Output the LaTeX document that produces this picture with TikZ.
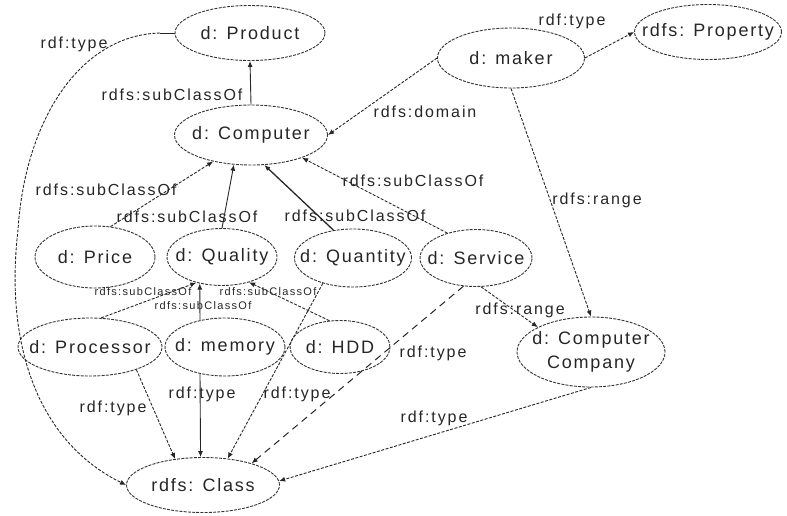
\documentclass[tikz,border=0pt]{standalone}
\usepackage{fontspec}
\usetikzlibrary{shapes.geometric,arrows.meta}
\newfontfamily\nodefont[LetterSpace=10]{Liberation Sans}
\newfontfamily\labfont[LetterSpace=12]{Liberation Sans}
\tikzset{
  ent/.style={ellipse, draw=black!80, line width=0.9pt, dash pattern=on 3pt off 1.2pt,
    inner sep=0pt, text=black!85, font=\nodefont\fontsize{18}{20}\selectfont},
  lab/.style={text=black!85, inner sep=1pt, font=\labfont\fontsize{16}{18}\selectfont},
  slab/.style={text=black!85, inner sep=1pt, font=\labfont\fontsize{11}{12}\selectfont},
  tip/.style={-{Latex[length=6pt,width=5pt]}},
  edash/.style={draw=black!85, line width=0.9pt, dash pattern=on 3pt off 1.5pt, tip},
  esolid/.style={draw=black!85, line width=0.9pt, tip},
  elong/.style={draw=black!85, line width=1pt, dash pattern=on 7pt off 5pt, tip}
}
\begin{document}
\begin{tikzpicture}[x=1pt,y=-1pt]
\useasboundingbox (0,0) rectangle (787,515);
% nodes
\node[ent, minimum width=150pt, minimum height=55pt] (product) at (250,33) {\makebox[0pt]{d: Product}};
\node[ent, minimum width=147pt, minimum height=55pt] (prop) at (708,32) {\makebox[0pt]{rdfs: Property}};
\node[ent, minimum width=147pt, minimum height=60pt] (maker) at (511,58) {\makebox[0pt]{d: maker}};
\node[ent, minimum width=153pt, minimum height=60pt] (comp) at (251,135) {\makebox[0pt]{d: Computer}};
\node[ent, minimum width=120pt, minimum height=62pt] (price) at (95,257) {\makebox[0pt]{d: Price}};
\node[ent, minimum width=110pt, minimum height=57pt] (qual) at (222,257) {\makebox[0pt]{d: Quality}};
\node[ent, minimum width=117pt, minimum height=58pt] (quant) at (353,258) {\makebox[0pt]{d: Quantity}};
\node[ent, minimum width=112pt, minimum height=57pt] (serv) at (476,258) {\makebox[0pt]{d: Service}};
\node[ent, minimum width=144pt, minimum height=58pt] (proc) at (90,347) {\makebox[0pt]{d: Processor}};
\node[ent, minimum width=120pt, minimum height=58pt] (mem) at (225,347) {\makebox[0pt]{d: memory}};
\node[ent, minimum width=100pt, minimum height=53pt] (hdd) at (340,347) {\makebox[0pt]{d: HDD}};
\node[ent, minimum width=148pt, minimum height=70pt] (cc) at (591,352) {\makebox[0pt]{\begin{tabular}{@{}c@{}}d: Computer\\[4pt]Company\end{tabular}}};
\node[ent, minimum width=153pt, minimum height=55pt] (cls) at (203,485) {\makebox[0pt]{rdfs: Class}};
% edges
\draw[esolid] (comp.north) -- (product.south);
\draw[edash] (maker.east) -- (prop.west);
\draw[edash] (maker.west) -- (comp.east);
\draw[edash] (maker.south) -- (cc.north);
\draw[edash] (serv.-80) -- (cc.155);
\draw[edash] (price.63) -- (comp.215);
\draw[esolid] (qual.north) -- (comp.240);
\draw[esolid, line width=1.3pt] (quant.125) -- (comp.294);
\draw[edash] (serv.139) -- (comp.336);
\draw[edash] (proc.69) -- (qual.225);
\draw[esolid] (mem.133) -- (qual.230);
\draw[edash] (hdd.112) -- (qual.317);
\draw[edash] (quant.220) -- (cls.47);
\draw[elong] (serv.246) -- (cls.24);
\draw[edash] (proc.334) -- (cls.137);
\draw[esolid] (mem.227) -- (cls.95);
\draw[edash] (cc.south) -- (cls.3);
\coordinate (pbend) at (160,33);
\draw[draw=black!85, line width=0.9pt] (product.west) -- (pbend);
\draw[edash] (pbend) .. controls (80,35) and (25,120) .. (18,230) .. controls (5,340) and (35,440) .. (cls.west);
% labels
\node[lab] (l1) at (172,95) {rdfs:subClassOf};
\node[lab] (l2) at (572,21) {rdf:type};
\node[lab] (l3) at (425,112) {rdfs:domain};
\node[lab] (l4) at (597,200) {rdfs:range};
\node[lab] (l5) at (520,310) {rdfs:range};
\node[lab] (l6) at (106,190) {rdfs:subClassOf};
\node[lab] (l7) at (187,217) {rdfs:subClassOf};
\node[lab] (l8) at (355,216) {rdfs:subClassOf};
\node[lab] (l9) at (413,181) {rdfs:subClassOf};
\node[slab] (l10) at (143,292) {rdfs:subClassOf};
\node[slab] (l11) at (268,292) {rdfs:subClassOf};
\node[slab] (l12) at (203,306) {rdfs:subClassOf};
\node[lab] (l13) at (297,394) {rdf:type};
\node[lab] (l14) at (433,353) {rdf:type};
\node[lab] (l15) at (113,408) {rdf:type};
\node[lab] (l16) at (202,394) {rdf:type};
\node[lab] (l17) at (434,418) {rdf:type};
\node[lab] (l18) at (74,44) {rdf:type};
\end{tikzpicture}
\end{document}
